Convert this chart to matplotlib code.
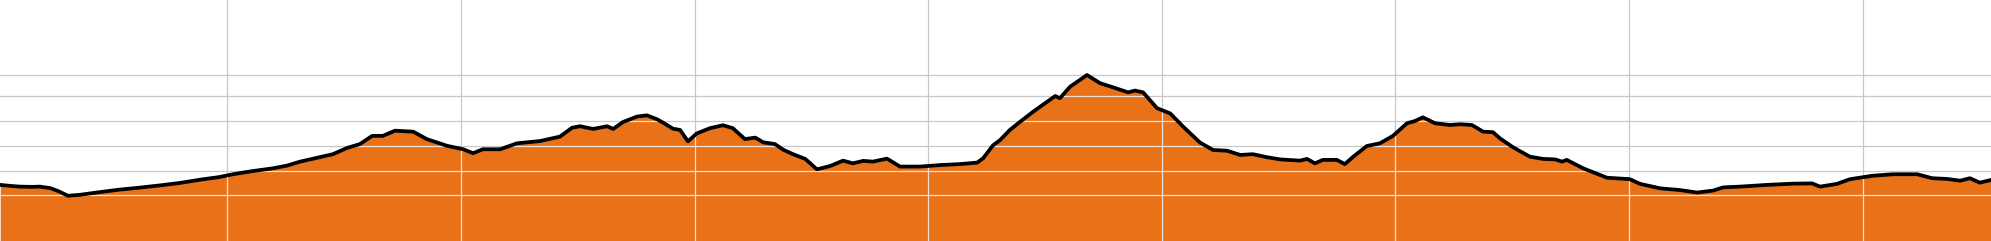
import matplotlib
matplotlib.use("Agg")

import matplotlib.pyplot as plt
import numpy as np

# 거리(km) / 고도(m) 프로파일
distance_km = [
    0.14, 0.35, 0.56, 0.84, 0.99, 1.21, 1.38, 1.59, 1.85, 2.28, 2.70, 3.13, 3.56, 3.99,
    4.42, 4.84, 5.12, 5.55, 5.98, 6.28, 6.56, 6.98, 7.26, 7.56, 7.84, 8.10, 8.33, 8.59,
    8.98, 9.27, 9.70, 10.05, 10.26, 10.47, 10.84,
    11.20, 11.69, 12.12, 12.38, 12.55, 12.83, 13.13, 13.26, 13.47, 13.77, 13.98, 14.20,
    14.33, 14.54, 14.69, 14.86, 15.05, 15.33, 15.61, 15.82, 16.08, 16.30, 16.47, 16.72,
    16.90, 17.11, 17.37, 17.62, 17.90, 18.18, 18.39, 18.61, 18.82, 19.12, 19.40, 19.83,
    20.25, 20.68, 21.05, 21.18, 21.39, 21.54,
    21.75, 21.97, 22.25, 22.55, 22.72, 22.82, 23.04, 23.25, 23.40, 23.68, 23.96, 24.28,
    24.43, 24.60, 24.90, 25.18, 25.46, 25.82, 26.10, 26.40, 26.68, 26.95, 27.25, 27.53,
    27.96, 28.11, 28.28, 28.45, 28.75, 28.92, 29.10, 29.39, 29.67, 29.95, 30.25, 30.42,
    30.59, 30.85, 31.17, 31.39, 31.64, 31.88, 32.09, 32.24,
    32.52, 32.88, 33.16, 33.42, 33.57, 33.67, 34.02, 34.53, 35.02, 35.24, 35.67, 36.10,
    36.46, 36.80, 37.02, 37.38, 37.96, 38.51, 38.92, 39.09, 39.45, 39.73, 40.01, 40.22,
    40.65, 41.17, 41.49, 41.81, 42.09, 42.30, 42.51, 42.75,
]
elevation_m = [
    242, 238, 235, 234, 235, 229, 217, 198, 202, 213, 223, 231, 240, 250,
    263, 274, 285, 298, 309, 320, 336, 354, 366, 391, 407, 440, 440, 461,
    457, 427, 400, 386, 370, 386, 386,
    410, 419, 437, 473, 479, 468, 479, 468, 496, 518, 523, 507,
    493, 469, 464, 418, 450, 471, 483, 471, 427, 433, 414, 407,
    384, 366, 347, 305, 318, 340, 329, 339, 336, 348, 316, 316,
    322, 326, 332, 350, 402, 423,
    464, 497, 538, 578, 601, 592, 639, 666, 686, 653, 636, 616,
    623, 616, 552, 531, 477, 413, 383, 380, 363, 366, 354, 345,
    340, 347, 329, 343, 343, 326, 356, 399, 410, 440, 491, 500,
    515, 491, 484, 487, 484, 457, 455, 430,
    394, 356, 347, 345, 336, 343, 309, 271, 265, 246, 228, 221,
    211, 219, 232, 235, 242, 247, 248, 235, 246, 265, 273, 279,
    285, 285, 269, 266, 259, 269, 251, 262,
]

x_grid = [5, 10, 15, 20, 25, 30, 35, 40]
y_grid = [200, 300, 400, 500, 600, 685]

ORANGE = "#E97218"

fig = plt.figure(figsize=(19.91, 2.41), dpi=100)
ax = fig.add_axes([0, 0, 1, 1])
ax.set_xlim(0.135, 42.75)
ax.set_ylim(15.3, 989)
ax.set_xticks(x_grid)
ax.set_yticks(y_grid)
ax.grid(color="#c8c8c8", linewidth=0.9)
ax.set_axisbelow(True)
ax.tick_params(length=0, labelbottom=False, labelleft=False)
for sp in ax.spines.values():
    sp.set_visible(False)

poly = ax.fill_between(distance_km, elevation_m, 0, color=ORANGE, linewidth=0, zorder=2)

# 채움 영역 안쪽의 밝은 격자선
clip = poly.get_paths()[0]
for xv in x_grid:
    ln = ax.axvline(xv, color="#ece0dc", linewidth=0.9, zorder=3)
    ln.set_clip_path(clip, ax.transData)
for yv in y_grid:
    ln = ax.axhline(yv, color="#ece0dc", linewidth=0.9, zorder=3)
    ln.set_clip_path(clip, ax.transData)

ax.plot(distance_km, elevation_m, color="black", linewidth=2.7, zorder=4)

fig.savefig("out.png", dpi=100)
plt.close()
